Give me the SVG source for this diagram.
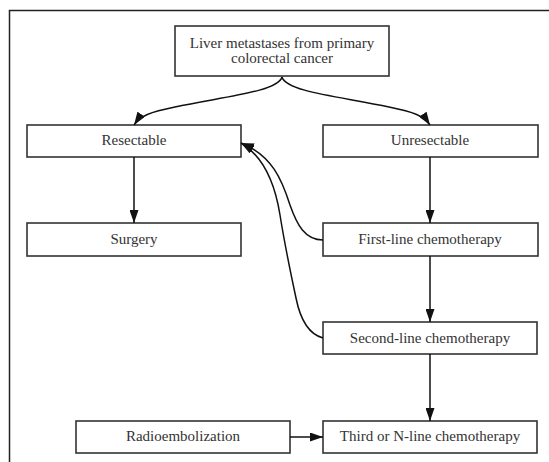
<svg xmlns="http://www.w3.org/2000/svg" width="549" height="462" viewBox="0 0 549 462">
<style>
.box{fill:#fff;stroke:#333;stroke-width:1.6}
.t{font-family:"Liberation Serif",serif;font-size:15px;fill:#333;text-anchor:middle}
.c{fill:none;stroke:#111;stroke-width:1.5}
</style>
<defs>
<marker id="ah" viewBox="0 0 13 9" refX="13" refY="4.5" markerWidth="13" markerHeight="9" markerUnits="userSpaceOnUse" orient="auto">
<path d="M0,0 L13,4.5 L0,9 z" fill="#111"/>
</marker>
</defs>
<rect width="549" height="462" fill="#fff"/>
<path d="M9.5,462 V10.5 H549" fill="none" stroke="#222" stroke-width="1.5"/>
<g id="n-liver"><rect class="box" x="175" y="26" width="214" height="50"/><text class="t" x="282" y="48">Liver metastases from primary</text><text class="t" x="282" y="63">colorectal cancer</text></g>
<g id="n-resectable"><rect class="box" x="27" y="125" width="214" height="32"/><text class="t" x="134" y="145">Resectable</text></g>
<g id="n-unresectable"><rect class="box" x="323" y="125" width="215" height="32"/><text class="t" x="430" y="145">Unresectable</text></g>
<g id="n-surgery"><rect class="box" x="27" y="223" width="214" height="33"/><text class="t" x="134" y="244">Surgery</text></g>
<g id="n-first"><rect class="box" x="323" y="223" width="215" height="33"/><text class="t" x="430" y="244">First-line chemotherapy</text></g>
<g id="n-second"><rect class="box" x="323" y="322" width="214" height="32"/><text class="t" x="430" y="343">Second-line chemotherapy</text></g>
<g id="n-third"><rect class="box" x="323" y="421" width="214" height="32"/><text class="t" x="430" y="441">Third or N-line chemotherapy</text></g>
<g id="n-radio"><rect class="box" x="76" y="421" width="214" height="32"/><text class="t" x="183" y="441">Radioembolization</text></g>
<g id="connectors">
<path class="c" d="M282,77 C278,92 220,97 175,107 C150,112 140,116 134,125" marker-end="url(#ah)"/>
<path class="c" d="M282,77 C286,92 344,97 389,107 C414,112 424,116 430,125" marker-end="url(#ah)"/>
<path class="c" d="M134,157 V223" marker-end="url(#ah)"/>
<path class="c" d="M430,157 V223" marker-end="url(#ah)"/>
<path class="c" d="M430,256 V322" marker-end="url(#ah)"/>
<path class="c" d="M430,354 V421" marker-end="url(#ah)"/>
<path class="c" d="M290,437 H323" marker-end="url(#ah)"/>
<path class="c" d="M323,240 C305,240 297,225 290,205 C282,180 272,155 241,143" marker-end="url(#ah)"/>
<path class="c" d="M323,338 C308,334 300,318 296,298 C290,270 284,240 280,215 C276,190 266,158 241,143" marker-end="url(#ah)"/>
</g>
</svg>
